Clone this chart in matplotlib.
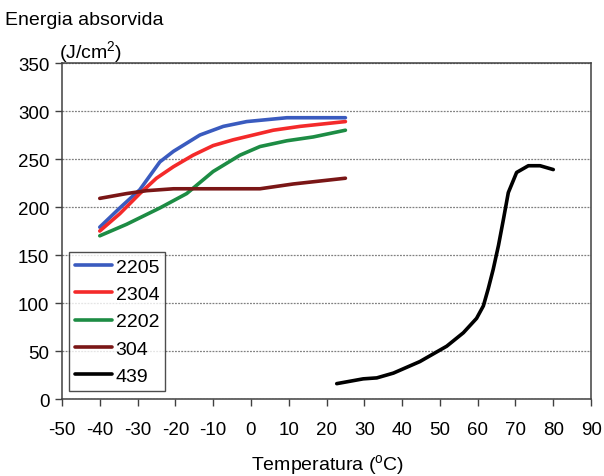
import numpy as np
import matplotlib
matplotlib.use('Agg')
import matplotlib.pyplot as plt

plt.rcParams['font.family'] = ['Liberation Sans', 'DejaVu Sans']
plt.rcParams['mathtext.fontset'] = 'custom'
plt.rcParams['mathtext.rm'] = 'Liberation Sans'
plt.rcParams['axes.unicode_minus'] = False

# ---- datos ----
t_2205 = [-40, -34.7, -29.4, -24.1, -20.5, -13.5, -7.3, -1.1, 9.5, 25]
e_2205 = [179, 199, 218, 247, 258, 275, 284, 289, 293, 293]

t_2304 = [-40, -34.7, -29.4, -25, -20.5, -15.3, -10, -4.7, 0.6, 5.9, 13, 25]
e_2304 = [175, 193, 214, 230, 242, 254, 264, 270, 275, 280, 284, 289]

t_2202 = [-40, -32.9, -24.1, -17, -10, -2.9, 2.4, 9.5, 16.5, 25]
e_2202 = [170, 182, 199, 214, 237, 254, 263, 269, 273, 280]

t_304 = [-40, -32.9, -27.6, -20.5, 2.4, 11.2, 25]
e_304 = [209, 214, 217, 219, 219, 224, 230]

t_439 = [22.7, 29.7, 33.3, 37.7, 44.7, 51.8, 56.2, 59.7, 61.5, 62.8, 64.1,
         65.5, 66.8, 68.1, 70.3, 73.4, 76.5, 80]
e_439 = [16, 21, 22, 27, 39, 55, 69, 84, 97, 115, 135,
         160, 187, 215, 236, 243, 243, 239]

series = [
    ('2205', t_2205, e_2205, '#3a5bbf'),
    ('2304', t_2304, e_2304, '#f42a2a'),
    ('2202', t_2202, e_2202, '#1d8c44'),
    ('304', t_304, e_304, '#7a1616'),
    ('439', t_439, e_439, '#000000'),
]

fig = plt.figure(figsize=(6.04, 4.77), dpi=100)
ax = fig.add_axes([0.1026, 0.1614, 0.876, 0.7044])

for nombre, t, e, c in series:
    ax.plot(t, e, color=c, lw=2.6, label=nombre, solid_capstyle='round')

ax.set_xlim(-50, 90)
ax.set_ylim(0, 350)
ax.set_xticks(np.arange(-50, 91, 10))
ax.set_yticks(np.arange(0, 351, 50))
ax.tick_params(labelsize=13.5, length=5, width=1, color='#404040', direction='out')
ax.tick_params(axis='x', pad=11)
ax.tick_params(axis='y', pad=4)
for s in ax.spines.values():
    s.set_color('#404040')
    s.set_linewidth(1.1)

ax.yaxis.grid(True, linestyle=(0, (1.5, 1)), color='#808080', lw=0.9)
ax.set_axisbelow(True)

leg = ax.legend(loc='lower left', bbox_to_anchor=(0.013, 0.024), fontsize=14,
                frameon=True, fancybox=False, edgecolor='#202020',
                handlelength=1.9, handletextpad=0.2, labelspacing=0.5,
                borderpad=0.3, borderaxespad=0)
leg.get_frame().set_linewidth(1.0)

fig.text(0.008, 0.958, 'Energia absorvida', fontsize=14, ha='left', va='center')
fig.text(0.098, 0.89, r'(J/cm$^{\rm 2}$)', fontsize=14, ha='left', va='center')
fig.text(0.542, 0.024, r'Temperatura ($^{\rm o}$C)', fontsize=14, ha='center', va='center')

fig.savefig('out.png', dpi=100)
